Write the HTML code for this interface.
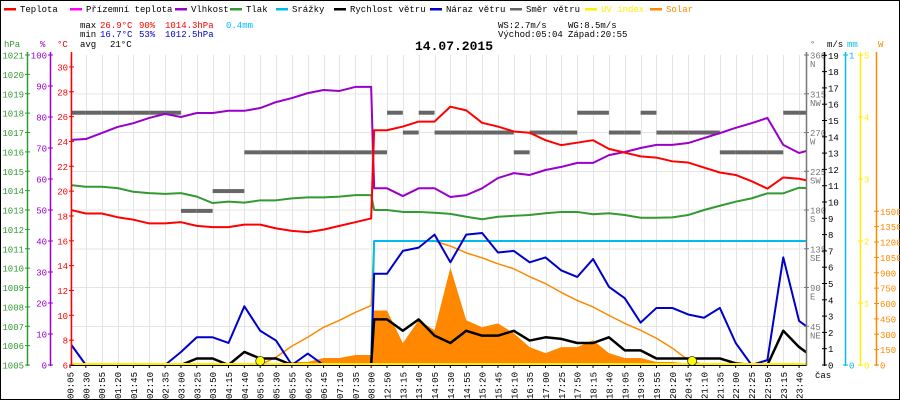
<!DOCTYPE html>
<html><head><meta charset="utf-8"><style>
html,body{margin:0;padding:0;background:#fff}
svg{display:block}
text{font-family:"Liberation Mono",monospace;font-size:9px}
</style></head><body>
<svg id="chart" width="900" height="400" viewBox="0 0 900 400" xmlns="http://www.w3.org/2000/svg">
<rect x="0.5" y="0.5" width="899" height="399" fill="#fff" stroke="#000"/>
<g id="grid"></g>
<g id="series" clip-path="url(#plotclip)"></g>
<defs><clipPath id="plotclip"><rect x="71" y="50" width="735" height="316"/></clipPath></defs>
<g id="axes"></g>
<g id="legend"></g>
<g>
<text x="80" y="28" fill="#000">max</text><text x="100" y="28" fill="#f00">26.9°C</text><text x="139" y="28" fill="#f00">90%</text><text x="165" y="28" fill="#f00">1014.3hPa</text><text x="226" y="28" fill="#0bf">0.4mm</text>
<text x="80" y="37" fill="#000">min</text><text x="100" y="37" fill="#00c">16.7°C</text><text x="139" y="37" fill="#00c">53%</text><text x="165" y="37" fill="#00c">1012.5hPa</text>
<text x="80" y="47" fill="#000">avg</text><text x="110" y="47" fill="#000">21°C</text>
<text x="498" y="28" fill="#000">WS:2.7m/s</text><text x="568" y="28" fill="#000">WG:8.5m/s</text>
<text x="498" y="37" fill="#000">Východ:05:04</text><text x="568" y="37" fill="#000">Západ:20:55</text>
<text x="415" y="50" fill="#000" style="font-size:13px;font-weight:bold">14.07.2015</text>
</g>
</svg>
<script>
const xLabels=["00:05","00:30","00:55","01:20","01:45","02:10","02:35","03:00","03:25","03:50","04:15","04:40","05:05","05:30","05:55","06:20","06:45","07:10","07:35","08:00","12:50","13:15","13:40","14:05","14:30","14:55","15:20","15:45","16:10","16:35","17:00","17:25","17:50","18:15","18:40","19:05","19:30","19:55","20:20","20:45","21:10","21:35","22:00","22:25","22:50","23:15","23:40"];
const temp=[18.5,18.2,18.2,17.9,17.7,17.4,17.4,17.5,17.2,17.1,17.1,17.3,17.3,17.0,16.8,16.7,16.9,17.2,17.5,17.8,24.9,25.2,25.6,25.6,26.8,26.5,25.5,25.2,24.8,24.7,24.1,23.7,23.9,24.1,23.4,23.1,22.8,22.7,22.4,22.3,21.9,21.5,21.3,20.8,20.2,21.1,21.0,20.7];
const humidity=[72.6,72.9,74.8,76.8,78,79.7,81,80,81.3,81.3,82,82,82.9,84.8,86.1,87.7,88.7,88.4,89.7,89.7,57,54.5,57,57,54.2,54.8,57,60.3,61.9,61.3,62.9,63.9,65.2,65.2,67.7,68.7,70,71,71,71.6,73.2,74.8,76.5,78,79.7,71,68.4,69.8];
const pressure=[1014.29,1014.2,1014.2,1014.13,1013.94,1013.87,1013.83,1013.87,1013.69,1013.36,1013.43,1013.38,1013.5,1013.5,1013.6,1013.65,1013.65,1013.69,1013.77,1013.77,1013.0,1012.9,1012.9,1012.86,1012.8,1012.65,1012.52,1012.65,1012.7,1012.74,1012.83,1012.9,1012.9,1012.78,1012.83,1012.74,1012.6,1012.6,1012.62,1012.74,1013.0,1013.22,1013.43,1013.6,1013.86,1013.86,1014.15,1014.1];
const gust=[1.35,0,0,0,0,0,0,0.8,1.7,1.7,1.35,3.6,2.1,1.5,0,0.7,0,0,0,0,5.6,7.0,7.2,8.0,6.3,8.0,8.1,6.9,7.0,6.3,6.6,5.8,5.4,6.5,4.8,4.1,2.6,3.5,3.5,3.1,2.9,3.5,1.35,0,0.3,6.6,2.7,2.0];
const windSpeed=[0,0,0,0,0,0,0,0,0.4,0.4,0,0.8,0.4,0.4,0,0,0,0,0,0,2.8,2.1,2.8,1.8,1.35,2.1,1.8,1.8,2.1,1.5,1.7,1.6,1.35,1.35,1.7,0.9,0.9,0.4,0.4,0.4,0.4,0.4,0.1,0,0,2.1,1.1,0.4];
const solarMax=[0,0,0,0,0,0,0,0,0,0,0,0,0,77,184,271,368,436,513,580,1210,1210,1210,1210,1160,1094,1045,987,939,862,794,707,630,566,484,406,339,261,165,48,0,0,0,0,0,0,0,0];
const solar=[0,0,0,0,0,0,0,0,0,0,0,0,0,0,29,29,68,68,97,97,532,213,436,339,950,436,368,406,310,174,116,174,174,242,116,68,68,29,29,15,0,0,0,0,0,0,0,0];
const windDir=[293,293,293,293,293,293,293,179,179,202,202,247,247,247,247,247,247,247,247,247,293,270,293,270,270,270,270,270,247,270,270,270,293,293,270,270,293,270,270,270,270,247,247,247,247,293,293,293];
const rain=[0,0,0,0,0,0,0,0,0,0,0,0,0,0,0,0,0,0,0,0,0.4,0.4,0.4,0.4,0.4,0.4,0.4,0.4,0.4,0.4,0.4,0.4,0.4,0.4,0.4,0.4,0.4,0.4,0.4,0.4,0.4,0.4,0.4,0.4,0.4,0.4,0.4,0.4];
const sunEvents=[12,39.25];

const NS="http://www.w3.org/2000/svg";
const X0=70,DX=15.85,Y0=365;
const xS=i=>X0+i*DX;
const yT=v=>Y0-(v-6)*12.42;
const yH=v=>Y0-v*3.1;
const yP=v=>Y0-(v-1005)*19.375;
const yW=v=>Y0-v*16.3;
const yD=v=>Y0-v*0.861;
const yR=v=>Y0-v*310;
const yS=v=>Y0-v*0.1025;
const yU=v=>Y0-v*62;
function mk(tag,attrs,parent,txt){const e=document.createElementNS(NS,tag);for(const k in attrs)e.setAttribute(k,attrs[k]);if(txt!==undefined)e.textContent=txt;parent.appendChild(e);return e;}
const G=document.getElementById('grid'),S=document.getElementById('series'),A=document.getElementById('axes'),L=document.getElementById('legend');
const JUMP=19;
function pts(arr,fy){const p=[];arr.forEach((v,i)=>{p.push([xS(i),fy(v)]);if(i===JUMP&&i+1<arr.length)p.push([xS(i)+3,fy(arr[i+1])]);});return p;}
for(let k=1;k<8;k++){const y=Y0-38.75*k;const l=mk('line',{x1:71,x2:806,y1:y,y2:y,stroke:'#e4e4e4','stroke-width':1,'shape-rendering':'crispEdges'},G);}
xLabels.forEach((t,i)=>{const x=Math.round(xS(i))+0.5;const l=mk('line',{x1:x,x2:x,y1:55,y2:365,stroke:'#e4e4e4','stroke-width':1},G);});
{const p=pts(solar,yS);let d='M'+p[0][0]+','+Y0+p.map(q=>'L'+q[0]+','+q[1]).join('')+'L'+p[p.length-1][0]+','+Y0+'Z';const e=mk('path',{d:d,fill:'#ff8800'},S);}
windDir.forEach((v,i)=>{const r=mk('rect',{x:xS(i),y:yD(v)-2,width:DX,height:4,fill:'#666'},S);});
function line(arr,fy,col,w,name){const p=pts(arr,fy);const e=mk('polyline',{points:p.map(q=>q.join(',')).join(' '),fill:'none',stroke:col,'stroke-width':w,'stroke-linejoin':'round'},S);}
line(solarMax,yS,'#ff8800',1.5,'solar-max-line');
line(rain,yR,'#00bbee',2,'rain-line');
line(pressure,yP,'#339933',2,'pressure-line');
line(humidity,yH,'#9900cc',2,'humidity-line');
line(temp,yT,'#ff0000',2,'temperature-line');
line(gust,yW,'#0000cc',2,'wind-gust-line');
line(windSpeed,yW,'#000000',2.5,'wind-speed-line');
{const e=mk('line',{x1:71,x2:806,y1:yU(0)-1,y2:yU(0)-1,stroke:'#ffee00','stroke-width':2},S);}
sunEvents.forEach(i=>{const c=mk('circle',{cx:xS(i),cy:Y0-4,r:4.5,fill:'#ffff00',stroke:'#333','stroke-width':0.8},S);});
function axis(x,col,ticks,fy,labelSide,name,title,titleX){const a=mk('line',{x1:x+0.5,x2:x+0.5,y1:52,y2:366,stroke:col,'stroke-width':1.5},A);
 ticks.forEach(t=>{const y=fy(t.v);mk('line',{x1:x-2,x2:x+3,y1:y,y2:y,stroke:col,'stroke-width':1},A);
  const tx=mk('text',{x:labelSide<0?x-3:x+4,y:y+3.5,fill:col,'text-anchor':labelSide<0?'end':'start'},A,t.l);
  if(t.s){const s=mk('text',{x:x+4,y:y+12,fill:col},A,t.s);}});
 const tt=mk('text',{x:titleX,y:47,fill:col},A,title);}
const hpaT=[];for(let v=1005;v<=1021;v++)hpaT.push({v:v,l:String(v)});
axis(27,'#339933',hpaT,yP,-1,'pressure-axis','hPa',4);
const humT=[];for(let v=0;v<=100;v+=10)humT.push({v:v,l:String(v)});
axis(50,'#9900cc',humT,yH,-1,'humidity-axis','%',40);
const tT=[];for(let v=6;v<=30;v+=2)tT.push({v:v,l:String(v)});
axis(71,'#ff0000',tT,yT,-1,'temperature-axis','°C',57);
const comp=['','NE','E','SE','S','SW','W','NW','N'];
const dT=[];for(let k=1;k<=8;k++)dT.push({v:k*45,l:String(k*45),s:comp[k]});
axis(806,'#777777',dT,yD,1,'direction-axis','°',810);
const wT=[];for(let v=0;v<=19;v++)wT.push({v:v,l:String(v)});
axis(824,'#000000',wT,yW,1,'wind-speed-axis','m/s',827);
axis(845,'#00bbee',[{v:0,l:'0'},{v:1,l:'1'}],yR,1,'rain-axis','mm',847);
const uT=[];for(let v=0;v<=5;v++)uT.push({v:v,l:String(v)});
axis(860,'#ffee00',uT,yU,1,'uv-axis','',862);
const sT=[];for(let v=0;v<=1500;v+=150)sT.push({v:v,l:String(v)});
axis(876,'#ff8800',sT,yS,1,'solar-axis','W',878);
{const b=mk('line',{x1:71,x2:806,y1:365.5,y2:365.5,stroke:'#000','stroke-width':1},A);}
xLabels.forEach((t,i)=>{const x=xS(i)+3.5;const e=mk('text',{x:0,y:0,fill:'#000','text-anchor':'end',transform:'translate('+x+',372) rotate(-90)'},A,t);mk('line',{x1:xS(i),x2:xS(i),y1:365,y2:368,stroke:'#000'},A);});
{const e=mk('text',{x:815,y:378,fill:'#000'},A,'čas');}
const legItems=[['Teplota','#ff0000',4],['Přízemní teplota','#ff00ff',70],['Vlhkost','#9900cc',175],['Tlak','#339933',230],['Srážky','#00bbee',276],['Rychlost větru','#000000',334],['Náraz větru','#0000cc',430],['Směr větru','#666666',510],['UV index','#ffee00',585],['Solar','#ff8800',650]];
legItems.forEach(([t,c,x])=>{const g=mk('g',{},L);
 mk('rect',{x:x,y:8,width:12,height:2.5,fill:c},g);
 mk('text',{x:x+16,y:12,fill:(t==='UV index'||t==='Solar')?c:'#000'},g,t);});
</script>
</body></html>
